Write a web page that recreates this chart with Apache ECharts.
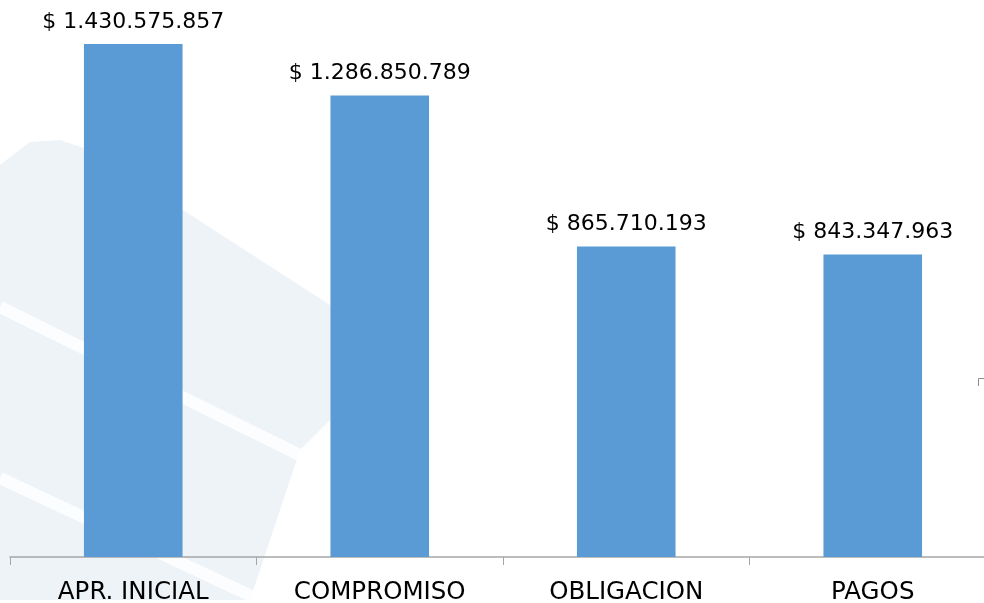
<!DOCTYPE html>
<html>
<head>
<meta charset="utf-8">
<script src="https://cdn.jsdelivr.net/npm/echarts@6/dist/echarts.min.js"></script>
<style>
html,body{margin:0;padding:0;background:#fff;}
#chart{width:984px;height:603px;}
</style>
</head>
<body>
<div id="chart"></div>
<script>
var categories = ['APR. INICIAL', 'COMPROMISO', 'OBLIGACION', 'PAGOS'];
var values = [1430575857, 1286850789, 865710193, 843347963];

function fmt(v) {
  return '$ ' + String(v).replace(/\B(?=(\d{3})+(?!\d))/g, '.');
}

var chart = echarts.init(document.getElementById('chart'), null, {renderer: 'canvas'});
var option = {
  animation: false,
  backgroundColor: '#ffffff',
  grid: { left: 10, width: 986, top: 0, bottom: 46, containLabel: false, outerBoundsMode: 'none' },
  graphic: [
    { type: 'polygon', z: -10, silent: true,
      shape: { points: [[0,165],[30,142],[60,140],[90,150],[330,305],[338,330],[330,420],[300,450],[250,600],[0,600]] },
      style: { fill: '#EEF3F8' } },
    { type: 'line', z: -9, silent: true,
      shape: { x1: 0, y1: 307, x2: 330, y2: 470 },
      style: { stroke: '#ffffff', lineWidth: 12, opacity: 0.8 } },
    { type: 'line', z: -9, silent: true,
      shape: { x1: 0, y1: 478, x2: 260, y2: 600 },
      style: { stroke: '#ffffff', lineWidth: 12, opacity: 0.8 } },
    { type: 'polyline', z: 10, silent: true,
      shape: { points: [[978.5,386],[978.5,378.5],[984,378.5]] },
      style: { stroke: '#8c8c8c', lineWidth: 1, fill: null } }
  ],
  xAxis: {
    type: 'category',
    data: categories,
    boundaryGap: true,
    axisLine: { show: true, lineStyle: { color: '#A6A6A6', width: 1.5 } },
    axisTick: { show: true, length: 8, lineStyle: { color: '#A6A6A6', width: 1 } },
    axisLabel: { color: '#000', fontSize: 24.5, fontFamily: 'DejaVu Sans', margin: 23 }
  },
  yAxis: {
    type: 'value',
    min: 0,
    max: 1553000000,
    show: false,
    splitLine: { show: false }
  },
  series: [{
    type: 'bar',
    data: values,
    barWidth: '40%',
    itemStyle: { color: '#5B9BD5' },
    label: {
      show: true,
      position: 'top',
      distance: 11,
      color: '#000',
      fontSize: 22,
      fontFamily: 'DejaVu Sans',
      formatter: function (p) { return fmt(p.value); }
    }
  }]
};
chart.setOption(option);
</script>
</body>
</html>
